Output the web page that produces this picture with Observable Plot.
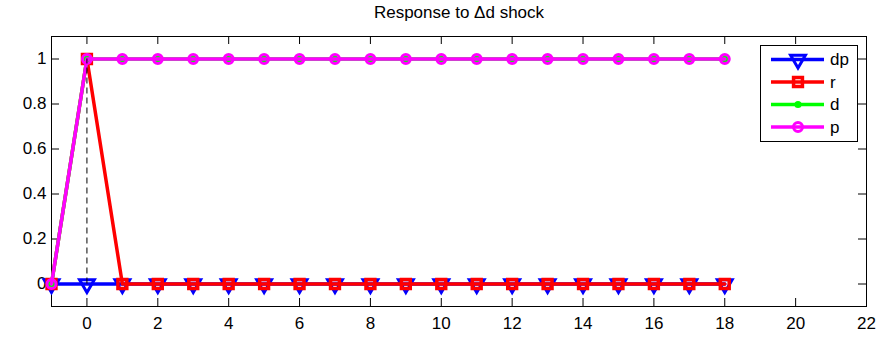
<!DOCTYPE html>
<html><head><meta charset="utf-8">
<script src="https://cdn.jsdelivr.net/npm/d3@7"></script>
<script src="https://cdn.jsdelivr.net/npm/@observablehq/plot@0.6"></script>
<style>
body{margin:0;background:#fff;}
#wrap{position:relative;width:885px;height:337px;font-family:"Liberation Sans",Arial,Helvetica,sans-serif;}
</style></head><body><div id="wrap"></div>
<script>
const periods = [-1,0,1,2,3,4,5,6,7,8,9,10,11,12,13,14,15,16,17,18];
const dpValues = [0,0,0,0,0,0,0,0,0,0,0,0,0,0,0,0,0,0,0,0];
const rValues  = [0,1,0,0,0,0,0,0,0,0,0,0,0,0,0,0,0,0,0,0];
const dValues  = [0,1,1,1,1,1,1,1,1,1,1,1,1,1,1,1,1,1,1,1];
const pValues  = [0,1,1,1,1,1,1,1,1,1,1,1,1,1,1,1,1,1,1,1];
const seriesNames = ["dp","r","d","p"];
const seriesColors = ["#0000ff","#ff0000","#00ff00","#ff00ff"];
const xTicks = [0,2,4,6,8,10,12,14,16,18,20,22];
const yTicks = [0,0.2,0.4,0.6,0.8,1];
const xDomain = [-1,22];
const yDomain = [-0.1,1.1];
const shockPeriod = [0];
const titleText = "Response to \u0394d shock";

const valuesBySeries = {dp: dpValues, r: rValues, d: dValues, p: pValues};
const rows = name => periods.map((t,i) => ({t, v: valuesBySeries[name][i]}));
const colorOf = name => seriesColors[seriesNames.indexOf(name)];

const markerStyle = {
  dp: {symbol: "triangle", r: 5.5, rotate: 180, fill: "none", strokeWidth: 3},
  r:  {symbol: "square", r: 5, fill: "none", strokeWidth: 3.5},
  d:  {symbol: "circle", r: 3.6, fill: colorOf("d"), strokeWidth: 0},
  p:  {symbol: "circle", r: 4.5, fill: "none", strokeWidth: 3}
};

const W = 885, H = 337, mL = 51, mR = 19, mT = 36, mB = 31;
const plotW = W - mL - mR, plotH = H - mT - mB, tickLen = 8;
const font = '"Liberation Sans",Arial,Helvetica,sans-serif';

const seriesMarks = seriesNames.flatMap(name => [
  Plot.line(rows(name), {x: "t", y: "v", stroke: colorOf(name), strokeWidth: 3.5}),
  Plot.dot(rows(name), {x: "t", y: "v", stroke: colorOf(name), ...markerStyle[name]})
]);

const chart = Plot.plot({
  width: W, height: H,
  marginLeft: mL, marginRight: mR, marginTop: mT, marginBottom: mB,
  x: {domain: xDomain, label: null},
  y: {domain: yDomain, label: null},
  style: {fontFamily: font, fontSize: "17px", color: "black", background: "white", overflow: "visible"},
  marks: [
    Plot.axisX({ticks: xTicks, tickSize: 0, tickPadding: 10, fontSize: 17, tickFormat: d => String(d)}),
    Plot.axisY({ticks: yTicks, tickSize: 0, tickPadding: 5, fontSize: 17, tickFormat: d => String(d)}),
    Plot.tickX(xTicks, {x: d => d, insetTop: plotH - tickLen, stroke: "black"}),
    Plot.tickX(xTicks, {x: d => d, insetBottom: plotH - tickLen, stroke: "black"}),
    Plot.tickY(yTicks, {y: d => d, insetRight: plotW - tickLen, stroke: "black"}),
    Plot.tickY(yTicks, {y: d => d, insetLeft: plotW - tickLen, stroke: "black"}),
    Plot.frame({stroke: "black", strokeWidth: 1}),
    ...seriesMarks,
    Plot.ruleX(shockPeriod, {x: d => d, y1: 0, y2: 1, stroke: "black", strokeWidth: 1, strokeDasharray: "6,4"}),
    Plot.text([titleText], {frameAnchor: "top", lineAnchor: "middle", dy: -24, fontSize: 17, fill: "black"})
  ]
});
const wrap = document.getElementById("wrap");
wrap.appendChild(chart);

// legend
const lw = 97, lh = 96, rowGap = 22.5, row0 = 14.5;
const svg = d3.select(wrap).append("svg").attr("width", lw+1).attr("height", lh+1)
  .style("position","absolute").style("left","760px").style("top","45px");
svg.append("rect").attr("x",0.5).attr("y",0.5).attr("width",lw).attr("height",lh)
  .attr("fill","white").attr("stroke","black").attr("stroke-width",1);
const sym = {triangle: d3.symbolTriangle, square: d3.symbolSquare, circle: d3.symbolCircle};
seriesNames.forEach((name,i) => {
  const y = row0 + i*rowGap, c = colorOf(name), m = markerStyle[name];
  const g = svg.append("g");
  g.append("line").attr("x1",11).attr("x2",64).attr("y1",y).attr("y2",y).attr("stroke",c).attr("stroke-width",3.5);
  g.append("path").attr("d", d3.symbol(sym[m.symbol], Math.PI*m.r*m.r)())
    .attr("transform", `translate(38,${y}) rotate(${m.rotate||0})`)
    .attr("fill", m.fill === "none" ? "none" : c).attr("stroke", c).attr("stroke-width", m.strokeWidth);
  g.append("text").attr("x",70).attr("y",y).attr("dy","0.35em").attr("font-family",font).attr("font-size",17).text(name);
});
</script></body></html>
